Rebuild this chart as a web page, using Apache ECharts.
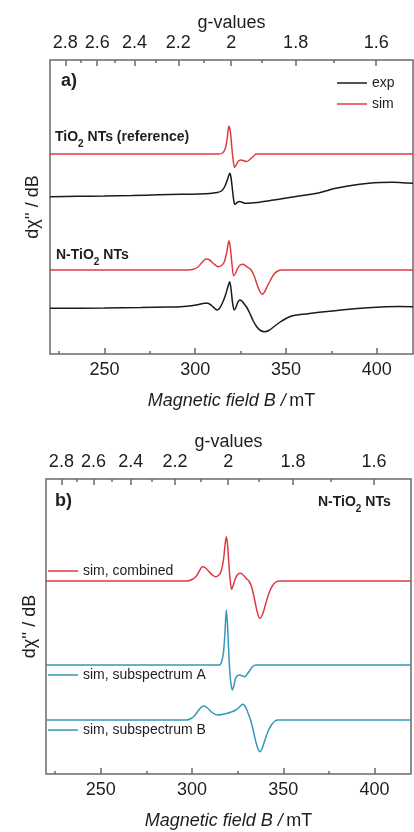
<!DOCTYPE html>
<html>
<head>
<meta charset="utf-8">
<title>EPR spectra of TiO2 and N-TiO2 nanotubes</title>
<script src="https://cdn.jsdelivr.net/npm/echarts@6/dist/echarts.min.js"></script>
<style>
  html, body { margin: 0; padding: 0; background: #fff; }
  #chart { width: 414px; height: 832px; }
</style>
</head>
<body>
<div id="chart"></div>
<script>
// ---------- axes ----------
const FIELD_RANGE = [220, 420];            // mT
const FIELD_MAJOR = [250, 300, 350, 400];
const FIELD_MINOR = [225, 275, 325, 375];
const G_MAJOR = [2.8, 2.6, 2.4, 2.2, 2, 1.8, 1.6];
const G_MINOR = [2.7, 2.5, 2.3, 2.1, 1.9, 1.7];
const MW_FREQ_GHZ = 8.952;                 // B[mT] = 71.4477 * nu[GHz] / g

// ---------- spectra: [B / mT, signal (a.u.)] ----------
// a) TiO2 NTs (reference)
const refSim = [[220,0],[313,0],[315,1],[316.5,5],[317.5,14],[318.6,28],[319.4,22],[320.1,8],[320.9,-6],
  [321.7,-13.5],[322.6,-11],[323.6,-7.5],[325,-6],[326.5,-6.5],[328.1,-7.5],[329.5,-6.5],[331,-4],
  [332.5,-1.5],[333.6,0],[420,0]];
const refExp = [[220,-2.7],[235,-2.3],[250,-2],[265,-1.5],[280,-0.8],[292,-0.3],[302,0],[308,0.5],
  [312,1.5],[314.5,3],[316.3,7.5],[317.7,14],[318.6,19],[319.1,20.7],[319.7,17],[320.3,8],[320.9,-2],
  [321.5,-9],[322,-10.3],[323,-8.7],[324.3,-7.5],[325.5,-8],[327.2,-9.2],[329,-9.3],[331,-9],
  [335.4,-8.3],[340.9,-6.7],[346.4,-5.3],[352,-3.5],[359,-1.5],[368,1],[377.4,5.7],[386,8.5],
  [395.7,10.7],[402,11.5],[408.4,11.7],[414,11.3],[420,10.7]];
// a) N-TiO2 NTs
const nSim = [[220,0],[296,0],[299,0.8],[301.5,3],[303.5,7],[305.9,11],[308,10],[310,6.5],[312.6,3.3],
  [314.5,4.5],[316,8],[317.3,17],[318.6,29.3],[319.4,22],[320.2,7],[321.2,-5.7],[322.3,-3],[323.5,2],
  [324.8,5],[326.3,5.7],[327.8,4.2],[329.5,2],[330.8,0],[332.5,-6],[334,-14],[335.5,-21],[336.8,-24.3],
  [338.2,-22],[339.8,-16],[341.5,-10],[343.5,-4],[345.5,-1],[348,0],[420,0]];
const nExp = [[220,-0.3],[250,0],[270,0.5],[285,1],[292,1.3],[298,2.2],[302,3.5],[305,4.8],[307,4.8],
  [309,2.5],[310.8,-0.5],[312,-2],[313.3,-0.5],[315,5],[316.7,13],[318,21],[319,26.3],[319.8,18],
  [320.6,5],[321.5,-2],[322.3,0],[323.3,5],[324.5,8],[325.7,7],[327,4],[328.3,1],[330,-5],[332,-13],
  [334,-19],[336,-22.5],[338.2,-23.7],[340.5,-22.5],[343.5,-18.5],[346.4,-14.5],[350,-10.5],
  [353.7,-7.7],[358,-6.5],[363,-5.5],[368.3,-4.3],[377,-2.7],[386.5,-1],[395,0.3],[404.8,1.3],
  [412,1.5],[420,1.3]];
// b) N-TiO2 NTs simulations
const combSim = [[220,0],[297.5,0],[300,1.5],[302,4],[304,10],[305.7,14.3],[307.5,13],[309.5,9],
  [311.5,5.5],[313,4.3],[314.5,5.5],[316,10],[317.3,22],[318.1,36],[318.8,44.3],[319.5,36],[320.1,20],
  [320.8,3],[321.7,-8.3],[322.6,-4],[323.7,2],[325,6.5],[326.7,7.7],[328.3,5.5],[330,2],[331.2,0],
  [332.5,-5],[334,-16],[335.5,-29],[337.1,-37.3],[338.7,-33],[340.2,-24],[342,-13],[344,-5],[346,-1],
  [348,0],[420,0]];
const subA = [[220,0],[315,0],[316.2,3],[317.2,12],[318,30],[318.8,55],[319.4,42],[320,18],[320.6,-3],
  [321.3,-18],[322.1,-25],[322.9,-21],[323.8,-14],[325,-10.5],[326.3,-10],[327.5,-11],[328.9,-11.7],
  [330.3,-9],[331.8,-5],[333.3,-1.5],[335,0],[420,0]];
const subB = [[220,0],[297,0],[299.5,1.5],[301.5,4.5],[303.5,9.5],[306.2,14],[308.5,12],[311,7.5],
  [313.9,5],[316.5,5.5],[319,6.5],[321.5,8],[323.5,9.5],[325.5,12],[326.8,14.5],[327.8,15.7],[329,14],
  [330.3,9],[331.3,4],[332.1,0],[333.5,-10],[335,-22],[336.2,-29],[337.1,-31.7],[338.3,-29],
  [339.8,-21],[341.5,-12],[343.5,-5],[345.5,-1],[347,0],[420,0]];

// stacking offsets (a.u.) and full y span of each panel
const OFFSETS_A = [200, 160, 84, 46];      // refSim, refExp, nSim, nExp
const OFFSETS_B = [193, 109, 54];          // combined, A, B
const Y_SPAN = [294, 295];

// ---------- style ----------
const FONT = 'Liberation Sans, Arial, sans-serif';
const TEXT = '#1e1e1e';
const FRAME = '#6a6a6a';
const RED = '#dc3b43';
const BLUE = '#3597ba';
const BLACK = '#1a1a1a';

const gToField = g => 71.4477 * MW_FREQ_GHZ / g;
const fieldToG = b => 71.4477 * MW_FREQ_GHZ / b;
const shift = (pts, dy) => pts.map(([b, s]) => [b, s + dy]);

function tickAxis(gridIndex, position, values, len, label) {
  const ax = {
    type: 'value', gridIndex, position, min: FIELD_RANGE[0], max: FIELD_RANGE[1],
    axisLine: { show: false }, splitLine: { show: false },
    axisTick: { inside: true, length: len, customValues: values, lineStyle: { color: FRAME, width: 1.5 } },
    axisLabel: { show: false }
  };
  if (label) ax.axisLabel = Object.assign({ customValues: values, fontSize: 18, color: TEXT, fontFamily: FONT }, label);
  return ax;
}

function panelAxes(gridIndex) {
  const bottom = tickAxis(gridIndex, 'bottom', FIELD_MAJOR, 6, { margin: 7 });
  bottom.name = '{i|Magnetic field B /} {n|mT}';
  bottom.nameLocation = 'middle';
  bottom.nameGap = 38;
  bottom.nameTextStyle = { rich: {
    i: { fontStyle: 'italic', fontSize: 18, color: TEXT, fontFamily: FONT },
    n: { fontSize: 18, color: TEXT, fontFamily: FONT }
  } };
  const top = tickAxis(gridIndex, 'top', G_MAJOR.map(gToField), 6, {
    margin: 8, formatter: v => String(+fieldToG(v).toFixed(1))
  });
  top.name = 'g-values';
  top.nameLocation = 'middle';
  top.nameGap = 28;
  top.nameTextStyle = { fontSize: 18, color: TEXT, fontFamily: FONT };
  return [
    bottom,
    tickAxis(gridIndex, 'bottom', FIELD_MINOR, 3),
    top,
    tickAxis(gridIndex, 'top', G_MINOR.map(gToField), 3)
  ];
}

function signalAxis(gridIndex, nameGap) {
  return {
    type: 'value', gridIndex, min: 0, max: Y_SPAN[gridIndex],
    name: "dχ'' / dB", nameLocation: 'middle', nameRotate: 90, nameGap,
    nameTextStyle: { fontSize: 18, color: TEXT, fontFamily: FONT },
    axisLine: { show: false }, axisTick: { show: false }, axisLabel: { show: false }, splitLine: { show: false }
  };
}

function trace(name, panel, data, color) {
  return {
    type: 'line', name, xAxisIndex: panel * 4, yAxisIndex: panel, data,
    symbol: 'none', smooth: 0.3,
    lineStyle: { color, width: 1.5 }, itemStyle: { color }
  };
}

// legend samples are plain short lines
function legendAt(names, left, top, extra) {
  return Object.assign({
    data: names, left, top, padding: 0, icon: 'rect', itemWidth: 30, itemHeight: 1.5, itemGap: 7,
    align: 'left', selectedMode: false, textStyle: { fontSize: 14, color: TEXT, fontFamily: FONT }
  }, extra || {});
}

const subRich = {
  b: { fontSize: 14, fontWeight: 'bold', lineHeight: 14, verticalAlign: 'top', color: TEXT, fontFamily: FONT },
  s: { fontSize: 10, fontWeight: 'bold', lineHeight: 19, verticalAlign: 'bottom', color: TEXT, fontFamily: FONT }
};
function label(text, left, top, size) {
  const textStyle = size
    ? { fontSize: size, fontWeight: 'bold', color: TEXT, fontFamily: FONT }
    : { rich: subRich };
  return { text, left, top, padding: 0, textStyle };
}

const chart = echarts.init(document.getElementById('chart'));
chart.setOption({
  animation: false,
  backgroundColor: '#fff',
  grid: [
    { left: 50, right: 1, top: 60, height: 294, show: true, borderColor: FRAME, borderWidth: 1.5 },
    { left: 46, right: 3, top: 479, height: 295, show: true, borderColor: FRAME, borderWidth: 1.5 }
  ],
  xAxis: panelAxes(0).concat(panelAxes(1)),
  yAxis: [signalAxis(0, 8), signalAxis(1, 7)],
  title: [
    label('a)', 61, 72, 18),
    label('{b|TiO}{s|2}{b| NTs (reference)}', 55, 130),
    label('{b|N-TiO}{s|2}{b| NTs}', 56, 248),
    label('b)', 55, 492, 18),
    label('{b|N-TiO}{s|2}{b| NTs}', 318, 495)
  ],
  legend: [
    legendAt(['exp', 'sim'], 337, 76, { orient: 'vertical' }),
    legendAt(['sim, combined'], 48, 564),
    legendAt(['sim, subspectrum A'], 48, 668),
    legendAt(['sim, subspectrum B'], 48, 723)
  ],
  series: [
    trace('sim', 0, shift(refSim, OFFSETS_A[0]), RED),
    trace('exp', 0, shift(refExp, OFFSETS_A[1]), BLACK),
    trace('sim', 0, shift(nSim, OFFSETS_A[2]), RED),
    trace('exp', 0, shift(nExp, OFFSETS_A[3]), BLACK),
    trace('sim, combined', 1, shift(combSim, OFFSETS_B[0]), RED),
    trace('sim, subspectrum A', 1, shift(subA, OFFSETS_B[1]), BLUE),
    trace('sim, subspectrum B', 1, shift(subB, OFFSETS_B[2]), BLUE)
  ]
});
</script>
</body>
</html>
